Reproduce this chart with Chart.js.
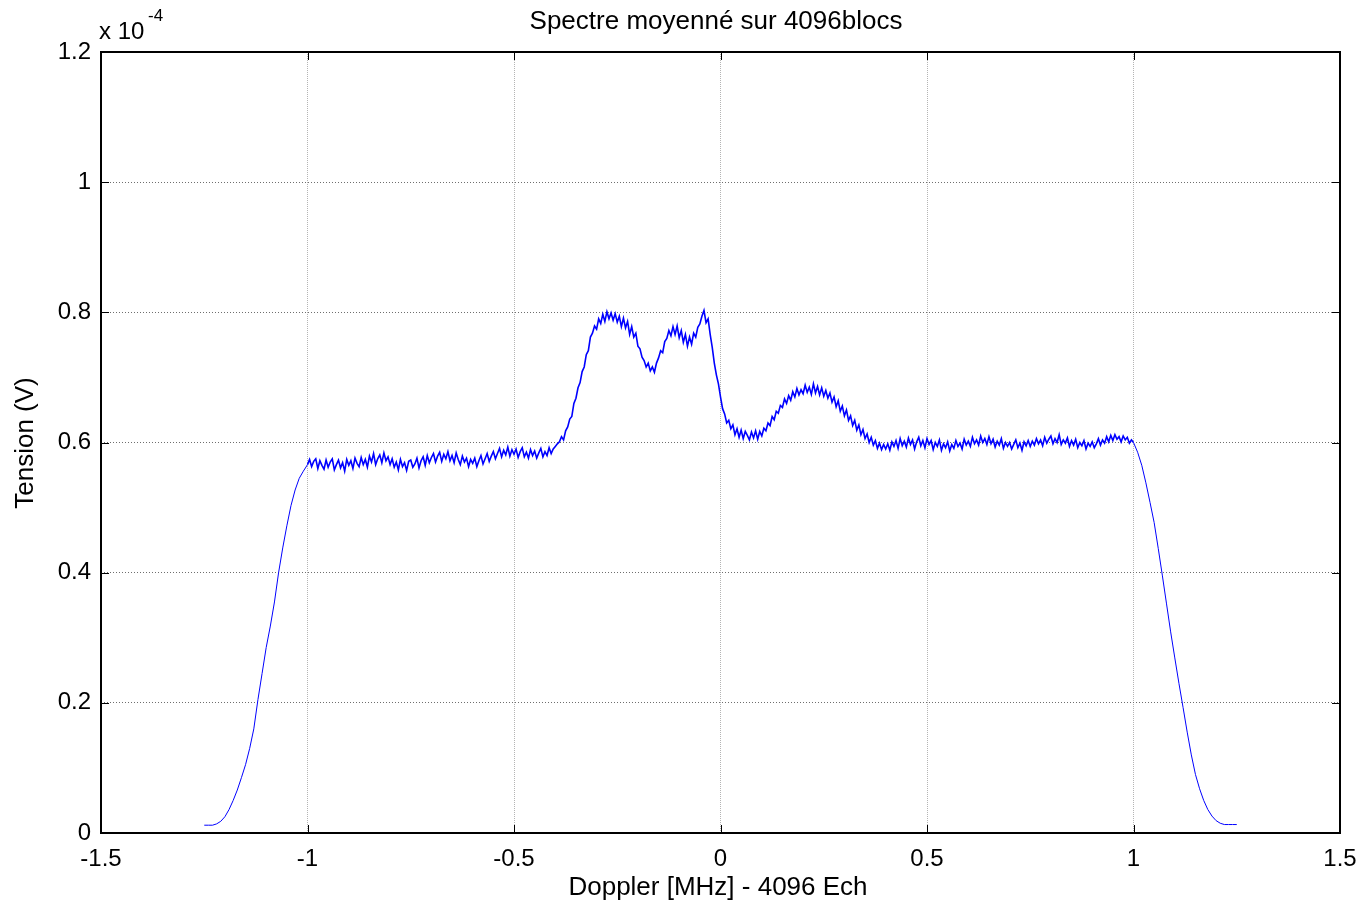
<!DOCTYPE html>
<html>
<head>
<meta charset="utf-8">
<script src="https://cdn.jsdelivr.net/npm/chart.js@4.4.1/dist/chart.umd.min.js"></script>
<style>
  body { margin: 0; background: #fff; }
  #wrap { width: 1362px; height: 905px; }
</style>
</head>
<body>
<div id="wrap"><canvas id="spectre" width="1362" height="905"></canvas></div>
<script>
// Doppler frequency bins (MHz): coarse on the filter edges, fine in the band
const freqMHz = [
  -1.25, -1.24, -1.23, -1.22, -1.21, -1.20, -1.19, -1.18, -1.17, -1.16,
  -1.15, -1.14, -1.13, -1.12, -1.11, -1.10, -1.09, -1.08, -1.07, -1.06,
  -1.05, -1.04, -1.03, -1.02, -1.01,
  -1.000, -0.995, -0.990, -0.985, -0.980, -0.975, -0.970, -0.965, -0.960, -0.955,
  -0.950, -0.945, -0.940, -0.935, -0.930, -0.925, -0.920, -0.915, -0.910, -0.905,
  -0.900, -0.895, -0.890, -0.885, -0.880, -0.875, -0.870, -0.865, -0.860, -0.855,
  -0.850, -0.845, -0.840, -0.835, -0.830, -0.825, -0.820, -0.815, -0.810, -0.805,
  -0.800, -0.795, -0.790, -0.785, -0.780, -0.775, -0.770, -0.765, -0.760, -0.755,
  -0.750, -0.745, -0.740, -0.735, -0.730, -0.725, -0.720, -0.715, -0.710, -0.705,
  -0.700, -0.695, -0.690, -0.685, -0.680, -0.675, -0.670, -0.665, -0.660, -0.655,
  -0.650, -0.645, -0.640, -0.635, -0.630, -0.625, -0.620, -0.615, -0.610, -0.605,
  -0.600, -0.595, -0.590, -0.585, -0.580, -0.575, -0.570, -0.565, -0.560, -0.555,
  -0.550, -0.545, -0.540, -0.535, -0.530, -0.525, -0.520, -0.515, -0.510, -0.505,
  -0.500, -0.495, -0.490, -0.485, -0.480, -0.475, -0.470, -0.465, -0.460, -0.455,
  -0.450, -0.445, -0.440, -0.435, -0.430, -0.425, -0.420, -0.415, -0.410, -0.405,
  -0.400, -0.395, -0.390, -0.385, -0.380, -0.375, -0.370, -0.365, -0.360, -0.355,
  -0.350, -0.345, -0.340, -0.335, -0.330, -0.325, -0.320, -0.315, -0.310, -0.305,
  -0.300, -0.295, -0.290, -0.285, -0.280, -0.275, -0.270, -0.265, -0.260, -0.255,
  -0.250, -0.245, -0.240, -0.235, -0.230, -0.225, -0.220, -0.215, -0.210, -0.205,
  -0.200, -0.195, -0.190, -0.185, -0.180, -0.175, -0.170, -0.165, -0.160, -0.155,
  -0.150, -0.145, -0.140, -0.135, -0.130, -0.125, -0.120, -0.115, -0.110, -0.105,
  -0.100, -0.095, -0.090, -0.085, -0.080, -0.075, -0.070, -0.065, -0.060, -0.055,
  -0.050, -0.045, -0.040, -0.035, -0.030, -0.025, -0.020, -0.015, -0.010, -0.005,
  0.000, 0.005, 0.010, 0.015, 0.020, 0.025, 0.030, 0.035, 0.040, 0.045,
  0.050, 0.055, 0.060, 0.065, 0.070, 0.075, 0.080, 0.085, 0.090, 0.095,
  0.100, 0.105, 0.110, 0.115, 0.120, 0.125, 0.130, 0.135, 0.140, 0.145,
  0.150, 0.155, 0.160, 0.165, 0.170, 0.175, 0.180, 0.185, 0.190, 0.195,
  0.200, 0.205, 0.210, 0.215, 0.220, 0.225, 0.230, 0.235, 0.240, 0.245,
  0.250, 0.255, 0.260, 0.265, 0.270, 0.275, 0.280, 0.285, 0.290, 0.295,
  0.300, 0.305, 0.310, 0.315, 0.320, 0.325, 0.330, 0.335, 0.340, 0.345,
  0.350, 0.355, 0.360, 0.365, 0.370, 0.375, 0.380, 0.385, 0.390, 0.395,
  0.400, 0.405, 0.410, 0.415, 0.420, 0.425, 0.430, 0.435, 0.440, 0.445,
  0.450, 0.455, 0.460, 0.465, 0.470, 0.475, 0.480, 0.485, 0.490, 0.495,
  0.500, 0.505, 0.510, 0.515, 0.520, 0.525, 0.530, 0.535, 0.540, 0.545,
  0.550, 0.555, 0.560, 0.565, 0.570, 0.575, 0.580, 0.585, 0.590, 0.595,
  0.600, 0.605, 0.610, 0.615, 0.620, 0.625, 0.630, 0.635, 0.640, 0.645,
  0.650, 0.655, 0.660, 0.665, 0.670, 0.675, 0.680, 0.685, 0.690, 0.695,
  0.700, 0.705, 0.710, 0.715, 0.720, 0.725, 0.730, 0.735, 0.740, 0.745,
  0.750, 0.755, 0.760, 0.765, 0.770, 0.775, 0.780, 0.785, 0.790, 0.795,
  0.800, 0.805, 0.810, 0.815, 0.820, 0.825, 0.830, 0.835, 0.840, 0.845,
  0.850, 0.855, 0.860, 0.865, 0.870, 0.875, 0.880, 0.885, 0.890, 0.895,
  0.900, 0.905, 0.910, 0.915, 0.920, 0.925, 0.930, 0.935, 0.940, 0.945,
  0.950, 0.955, 0.960, 0.965, 0.970, 0.975, 0.980, 0.985, 0.990, 0.995,
  1.000,
  1.01, 1.02, 1.03, 1.04, 1.05, 1.06, 1.07, 1.08, 1.09, 1.10,
  1.11, 1.12, 1.13, 1.14, 1.15, 1.16, 1.17, 1.18, 1.19, 1.20,
  1.21, 1.22, 1.23, 1.24, 1.25
];

// averaged spectrum, in units of 1e-4 V
const tensionE4 = [
  0.012, 0.012, 0.012, 0.014, 0.018, 0.025, 0.036, 0.050, 0.066, 0.085,
  0.105, 0.130, 0.160, 0.205, 0.245, 0.285, 0.318, 0.355, 0.400, 0.438,
  0.472, 0.503, 0.527, 0.545, 0.556,
  0.566, 0.574, 0.563, 0.571, 0.575, 0.560, 0.572, 0.565, 0.559, 0.573,
  0.562, 0.570, 0.575, 0.558, 0.566, 0.573, 0.561, 0.569, 0.556, 0.574,
  0.565, 0.572, 0.560, 0.576, 0.568, 0.563, 0.577, 0.566, 0.574, 0.562,
  0.579, 0.570, 0.583, 0.566, 0.575, 0.581, 0.569, 0.584, 0.572, 0.578,
  0.566, 0.575, 0.562, 0.570, 0.558, 0.574, 0.563, 0.569, 0.557, 0.571,
  0.573, 0.562, 0.567, 0.576, 0.561, 0.572, 0.578, 0.565, 0.580, 0.569,
  0.577, 0.583, 0.570, 0.579, 0.585, 0.571, 0.582, 0.575, 0.586, 0.572,
  0.580, 0.569, 0.584, 0.574, 0.566, 0.579, 0.570, 0.576, 0.563, 0.574,
  0.568, 0.576, 0.563, 0.572, 0.580, 0.567, 0.575, 0.583, 0.571, 0.579,
  0.586, 0.575, 0.583, 0.591, 0.578, 0.588, 0.581, 0.593, 0.579, 0.589,
  0.582, 0.590, 0.577, 0.586, 0.592, 0.578, 0.585, 0.576, 0.589, 0.580,
  0.587, 0.576, 0.584, 0.591, 0.578, 0.586, 0.580, 0.592, 0.583, 0.590,
  0.594, 0.598, 0.601, 0.609, 0.604, 0.618, 0.624, 0.636, 0.640, 0.660,
  0.668, 0.684, 0.692, 0.709, 0.716, 0.735, 0.741, 0.762, 0.768, 0.779,
  0.774, 0.790, 0.783, 0.797, 0.786, 0.801, 0.790, 0.799, 0.788, 0.798,
  0.785, 0.794, 0.778, 0.791, 0.776, 0.786, 0.766, 0.778, 0.762, 0.768,
  0.748, 0.744, 0.731, 0.726, 0.716, 0.722, 0.710, 0.716, 0.708, 0.722,
  0.730, 0.741, 0.738, 0.755, 0.760, 0.772, 0.764, 0.778, 0.766, 0.779,
  0.761, 0.772, 0.754, 0.766, 0.748, 0.762, 0.751, 0.768, 0.762, 0.777,
  0.782, 0.794, 0.803, 0.784, 0.790, 0.766, 0.746, 0.722, 0.704, 0.690,
  0.670, 0.652, 0.644, 0.630, 0.634, 0.621, 0.627, 0.612, 0.621, 0.608,
  0.619, 0.606, 0.617, 0.611, 0.604, 0.616, 0.607, 0.618, 0.605, 0.617,
  0.610, 0.622, 0.618, 0.630, 0.626, 0.640, 0.635, 0.648, 0.645, 0.657,
  0.654, 0.667, 0.660, 0.672, 0.665, 0.678, 0.670, 0.683, 0.673, 0.681,
  0.675, 0.688, 0.677, 0.685, 0.674, 0.690, 0.676, 0.686, 0.673, 0.684,
  0.671, 0.680, 0.668, 0.676, 0.662, 0.670, 0.655, 0.664, 0.648, 0.656,
  0.641, 0.650, 0.634, 0.641, 0.626, 0.634, 0.619, 0.627, 0.612, 0.620,
  0.606, 0.613, 0.600, 0.608, 0.596, 0.603, 0.591, 0.599, 0.589, 0.597,
  0.590, 0.598, 0.588, 0.601, 0.594, 0.603, 0.591, 0.606, 0.595, 0.602,
  0.593, 0.607, 0.597, 0.604, 0.590, 0.601, 0.608, 0.595, 0.603, 0.592,
  0.606, 0.597, 0.603, 0.589, 0.600, 0.594, 0.604, 0.588, 0.598, 0.592,
  0.601, 0.587, 0.597, 0.591, 0.603, 0.594, 0.599, 0.590, 0.605, 0.596,
  0.602, 0.594, 0.608, 0.598, 0.604, 0.596, 0.610, 0.600, 0.606, 0.597,
  0.609, 0.598, 0.605, 0.593, 0.602, 0.596, 0.606, 0.591, 0.600, 0.594,
  0.600, 0.590, 0.597, 0.604, 0.592, 0.599, 0.588, 0.601, 0.595, 0.603,
  0.594, 0.602, 0.596, 0.606, 0.598, 0.604, 0.595, 0.608, 0.599, 0.605,
  0.610, 0.598, 0.606, 0.600, 0.612, 0.597, 0.604, 0.599, 0.607, 0.594,
  0.603, 0.596, 0.605, 0.592, 0.600, 0.595, 0.603, 0.590, 0.599, 0.594,
  0.601, 0.592, 0.598, 0.606, 0.596, 0.604, 0.599, 0.609, 0.601, 0.611,
  0.603, 0.612, 0.605, 0.609, 0.601, 0.610, 0.604, 0.608, 0.599, 0.604,
  0.600,
  0.585, 0.565, 0.538, 0.508, 0.477, 0.437, 0.395, 0.352, 0.309, 0.269,
  0.230, 0.193, 0.155, 0.120, 0.090, 0.068, 0.050, 0.036, 0.026, 0.019,
  0.015, 0.013, 0.013, 0.013, 0.013
];

const xTicks = [-1.5, -1, -0.5, 0, 0.5, 1, 1.5];
const yTicks = [0, 0.2, 0.4, 0.6, 0.8, 1, 1.2];

const titleText = 'Spectre moyenné sur 4096blocs';
const xLabel = 'Doppler [MHz] - 4096 Ech';
const yLabel = 'Tension (V)';

const FONT = '"Liberation Sans", Arial, sans-serif';

function fmtTick(v) {
  return String(Math.round(v * 10) / 10);
}

// box, inward ticks and the texts around the axes
const matlabAxes = {
  id: 'matlabAxes',
  afterDraw(chart) {
    const {ctx, chartArea: a, scales: {x, y}} = chart;
    ctx.save();
    ctx.strokeStyle = '#000';
    ctx.lineWidth = 1;
    ctx.beginPath();
    xTicks.forEach(v => {
      const px = Math.round(x.getPixelForValue(v)) + 0.5;
      ctx.moveTo(px, a.bottom); ctx.lineTo(px, a.bottom - 8);
      ctx.moveTo(px, a.top); ctx.lineTo(px, a.top + 8);
    });
    yTicks.forEach(v => {
      const py = Math.round(y.getPixelForValue(v)) + 0.5;
      ctx.moveTo(a.left, py); ctx.lineTo(a.left + 8, py);
      ctx.moveTo(a.right, py); ctx.lineTo(a.right - 8, py);
    });
    ctx.stroke();

    ctx.lineWidth = 2;
    ctx.strokeRect(a.left, a.top, a.right - a.left, a.bottom - a.top);

    ctx.fillStyle = '#000';
    ctx.textBaseline = 'middle';
    ctx.textAlign = 'center';
    ctx.font = '26px ' + FONT;
    ctx.fillText(titleText, 716, 22);
    ctx.fillText(xLabel, 718, 888);

    ctx.save();
    ctx.translate(26, 443);
    ctx.rotate(-Math.PI / 2);
    ctx.fillText(yLabel, 0, 0);
    ctx.restore();

    // exponent of the y axis
    ctx.textAlign = 'left';
    ctx.font = '24px ' + FONT;
    ctx.fillText('x 10', 99, 32);
    ctx.font = '17px ' + FONT;
    ctx.fillText('-4', 148, 16);
    ctx.restore();
  }
};

// the noisy in-band part reads heavier than the clean filter edges
function segWidth(c) {
  const x0 = c.p0.parsed.x;
  return (x0 >= -1.0 && x0 < 1.0) ? 1.6 : 1;
}

new Chart(document.getElementById('spectre'), {
  type: 'line',
  data: {
    datasets: [{
      data: freqMHz.map((f, i) => ({x: f, y: tensionE4[i]})),
      borderColor: '#0000ff',
      borderWidth: 1.2,
      segment: {borderWidth: segWidth},
      pointRadius: 0,
      tension: 0,
      fill: false,
    }],
  },
  options: {
    responsive: false,
    animation: false,
    layout: {padding: {top: 52, right: 22, left: 0, bottom: 0}},
    plugins: {
      legend: {display: false},
      tooltip: {enabled: false},
      title: {display: false},
    },
    scales: {
      x: {
        type: 'linear',
        min: -1.5,
        max: 1.5,
        afterBuildTicks: s => { s.ticks = xTicks.map(v => ({value: v})); },
        afterFit: s => {
          s.height = 72;
          s.paddingLeft = 0;
          s.paddingRight = 0;
        },
        grid: {color: '#b4b4b4', lineWidth: 1, drawTicks: false},
        border: {display: false, dash: [1, 1]},
        ticks: {
          color: '#000',
          font: {size: 24, family: FONT},
          padding: 12,
          maxRotation: 0,
          callback: v => fmtTick(v),
        },
      },
      y: {
        min: 0,
        max: 1.2,
        afterBuildTicks: s => { s.ticks = yTicks.map(v => ({value: v})); },
        afterFit: s => { s.width = 101; },
        grid: {color: '#6e6e6e', lineWidth: 1, drawTicks: false},
        border: {display: false, dash: [1, 2]},
        ticks: {
          color: '#000',
          font: {size: 24, family: FONT},
          padding: 10,
          callback: v => fmtTick(v),
        },
      },
    },
  },
  plugins: [matlabAxes],
});
</script>
</body>
</html>
